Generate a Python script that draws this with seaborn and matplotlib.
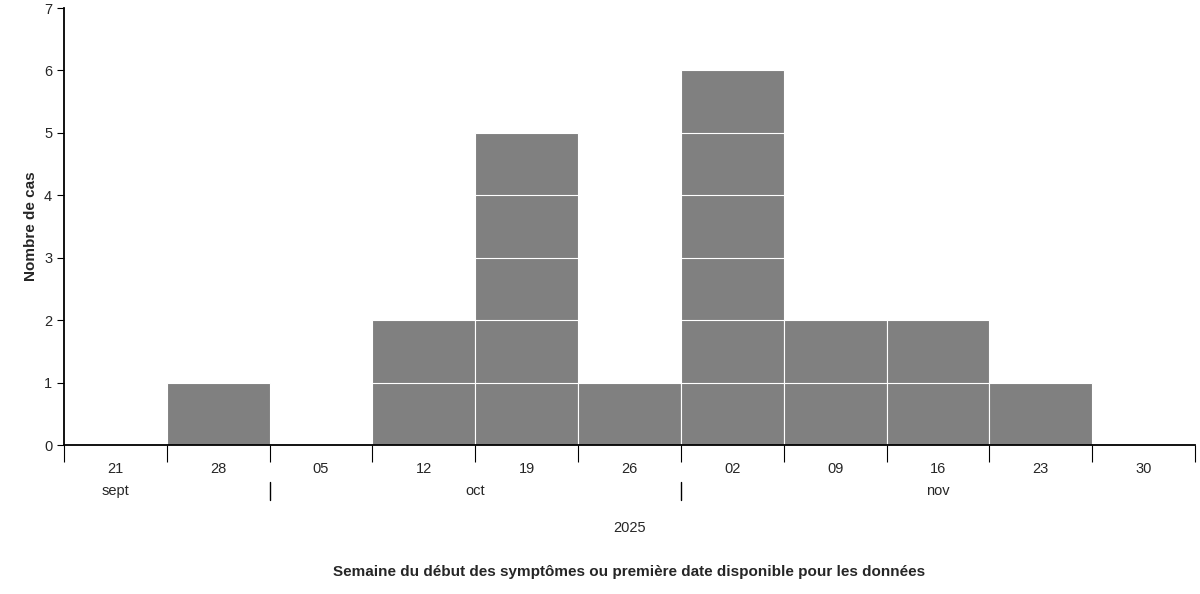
import numpy as np
import pandas as pd
import matplotlib.pyplot as plt
import seaborn as sns

weeks = ["21", "28", "05", "12", "19", "26", "02", "09", "16", "23", "30"]
cases = [0, 1, 0, 2, 5, 1, 6, 2, 2, 1, 0]
months = ["sept", "oct", "nov"]
month_spans = [(0, 1), (2, 5), (6, 10)]
year = "2025"

sns.set_style("white")
plt.rcParams["font.family"] = ["Liberation Sans", "DejaVu Sans"]

df = pd.DataFrame({"week": weeks, "cases": cases})

fig = plt.figure(figsize=(12, 5.94), dpi=100)
ax = fig.add_axes([0.0533, 0.2508, 0.9425, 0.7357])

sns.barplot(data=df, x="week", y="cases", width=1.0, color="#808080",
            saturation=1, edgecolor="white", linewidth=0.8, ax=ax)
# white separators between unit cases
for i, n in enumerate(cases):
    for k in range(1, n):
        ax.hlines(k, i - 0.5, i + 0.5, color="white", linewidth=0.8)

ax.set_xlim(-0.5, len(weeks) - 0.5)
ax.set_ylim(0, 7)
ax.set_yticks(range(8))
ax.tick_params(axis="y", length=5, labelsize=10.5, color="black", left=True)
ax.set_xticks(np.arange(len(weeks) + 1) - 0.5)
ax.set_xticklabels([])
ax.tick_params(axis="x", length=12, color="black", bottom=True)
ax.set_xlabel("")
ax.set_ylabel("Nombre de cas", fontsize=11, fontweight="bold")
for s in ["top", "right"]:
    ax.spines[s].set_visible(False)
for s in ["left", "bottom"]:
    ax.spines[s].set_color("black")
    ax.spines[s].set_linewidth(1.3)

trans = ax.get_xaxis_transform()
for i, w in enumerate(weeks):
    ax.text(i, -0.055, w, transform=trans, ha="center", va="center", fontsize=10.5)
for m, (a, b) in zip(months, month_spans):
    ax.text((a + b) / 2 if m != "sept" else (a + b) / 2 - 0.5, -0.105, m,
            transform=trans, ha="center", va="center", fontsize=10.5)
for b in [1.5, 5.5]:
    ax.plot([b, b], [-0.085, -0.125], transform=trans, color="black",
            linewidth=1, clip_on=False)
ax.text(5, -0.19, year, transform=trans, ha="center", va="center", fontsize=10.5)
ax.text(5, -0.29, "Semaine du début des symptômes ou première date disponible pour les données",
        transform=trans, ha="center", va="center", fontsize=11, fontweight="bold")

fig.savefig("out.png", dpi=100)
